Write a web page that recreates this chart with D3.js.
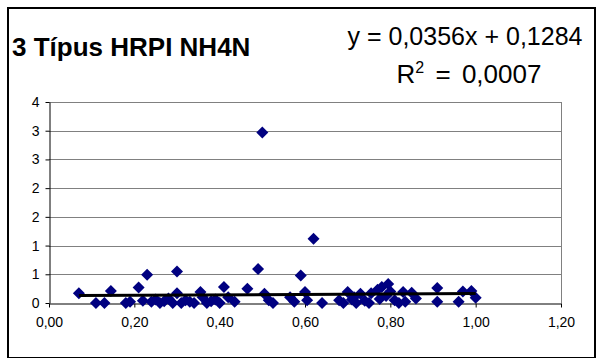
<!DOCTYPE html>
<html>
<head>
<meta charset="utf-8">
<script src="https://cdn.jsdelivr.net/npm/d3@7"></script>
<style>
  html, body { margin: 0; padding: 0; background: #fff; }
  svg { display: block; font-family: "Liberation Sans", Arial, sans-serif; }
</style>
</head>
<body>
<div id="chart"></div>
<script>
// Measured values (x, y)
const xValues = [0.07, 0.11, 0.13, 0.145, 0.18, 0.19, 0.21, 0.22, 0.23, 0.24, 0.25, 0.26, 0.27, 0.28, 0.29,
  0.30, 0.30, 0.31, 0.32, 0.33, 0.34, 0.355, 0.36, 0.37, 0.38, 0.39, 0.40, 0.41, 0.42, 0.435,
  0.465, 0.49, 0.50, 0.505, 0.515, 0.525, 0.565, 0.575, 0.59, 0.60, 0.605, 0.62, 0.64,
  0.68, 0.69, 0.70, 0.71, 0.715, 0.72, 0.73, 0.74, 0.75, 0.755, 0.77, 0.775, 0.78, 0.79, 0.795,
  0.80, 0.81, 0.82, 0.83, 0.835, 0.85, 0.86, 0.91, 0.91, 0.96, 0.97, 0.99, 1.00];
const yValues = [0.17, 0.00, 0.00, 0.21, 0.00, 0.02, 0.27, 0.04, 0.49, 0.02, 0.06, 0.00, 0.03, 0.08, 0.00,
  0.55, 0.17, 0.00, 0.05, 0.02, 0.00, 0.19, 0.10, 0.00, 0.03, 0.06, 0.00, 0.28, 0.10, 0.02,
  0.25, 0.59, 2.97, 0.16, 0.05, 0.00, 0.10, 0.02, 0.48, 0.19, 0.05, 1.12, 0.00,
  0.05, 0.00, 0.19, 0.06, 0.10, 0.00, 0.16, 0.04, 0.00, 0.17, 0.23, 0.07, 0.28, 0.12, 0.33,
  0.20, 0.05, 0.00, 0.19, 0.02, 0.18, 0.08, 0.26, 0.02, 0.02, 0.20, 0.21, 0.09];

// Linear trend as printed on the chart
const trendSlope = 0.0356;
const trendIntercept = 0.1284;

const xTicks = [0, 0.2, 0.4, 0.6, 0.8, 1.0, 1.2];
const yTicks = [0, 0.5, 1, 1.5, 2, 2.5, 3, 3.5];

const title = '3 Típus HRPI NH4N';

const width = 598, height = 358;
const plot = { left: 49, right: 561, top: 102, bottom: 303 };

const svg = d3.select('#chart').append('svg')
  .attr('width', width)
  .attr('height', height);

// Chart border
svg.append('rect')
  .attr('x', 8).attr('y', 8)
  .attr('width', 587).attr('height', 350)
  .attr('fill', '#fff')
  .attr('stroke', '#000')
  .attr('stroke-width', 2);

const xScale = d3.scaleLinear().domain([0, 1.2]).range([plot.left, plot.right]);
const yScale = d3.scaleLinear().domain([0, 3.5]).range([plot.bottom, plot.top]);

// Gridlines
svg.append('g').selectAll('line')
  .data(yTicks.filter(d => d > 0))
  .enter().append('line')
  .attr('x1', plot.left).attr('x2', plot.right)
  .attr('y1', d => Math.round(yScale(d)) + 0.5)
  .attr('y2', d => Math.round(yScale(d)) + 0.5)
  .attr('stroke', '#808080');

// Plot area right border
svg.append('line')
  .attr('x1', plot.right + 0.5).attr('x2', plot.right + 0.5)
  .attr('y1', plot.top).attr('y2', plot.bottom)
  .attr('stroke', '#808080');

// Axes
const fmtX = d => d3.format('.2f')(d).replace('.', ',');
const fmtY = d => String(Math.round(d + 1e-9));

svg.append('g')
  .attr('transform', `translate(0,${plot.bottom + 0.5})`)
  .call(d3.axisBottom(xScale).tickValues(xTicks).tickFormat(fmtX).tickSizeInner(4).tickSizeOuter(0).tickPadding(10))
  .call(g => g.select('.domain').attr('stroke', '#000'))
  .call(g => g.selectAll('line').attr('stroke', '#000'))
  .call(g => g.selectAll('text').attr('fill', '#000').style('font-size', '14px').style('font-family', '"Liberation Sans", Arial, sans-serif'));

svg.append('g')
  .attr('transform', `translate(${plot.left + 0.5},0)`)
  .call(d3.axisLeft(yScale).tickValues(yTicks).tickFormat(fmtY).tickSizeInner(4).tickSizeOuter(0).tickPadding(6))
  .call(g => g.select('.domain').attr('stroke', '#000'))
  .call(g => g.selectAll('line').attr('stroke', '#000'))
  .call(g => g.selectAll('text').attr('fill', '#000').style('font-size', '14px').style('font-family', '"Liberation Sans", Arial, sans-serif'));

// Points
const points = xValues.map((x, i) => ({ x, y: yValues[i] }));
const diamond = 'M0,-6L6,0L0,6L-6,0Z';

svg.append('g').selectAll('path')
  .data(points)
  .enter().append('path')
  .attr('d', diamond)
  .attr('transform', d => `translate(${xScale(d.x)},${yScale(d.y)})`)
  .attr('fill', '#000080');

// Trendline
const xMin = d3.min(xValues), xMax = d3.max(xValues);
svg.append('line')
  .attr('x1', xScale(xMin)).attr('x2', xScale(xMax))
  .attr('y1', yScale(trendSlope * xMin + trendIntercept))
  .attr('y2', yScale(trendSlope * xMax + trendIntercept))
  .attr('stroke', '#000')
  .attr('stroke-width', 3);

// Title
svg.append('text')
  .attr('x', 12).attr('y', 56)
  .style('font-size', '26px')
  .style('font-weight', 'bold')
  .text(title);

// Equation
svg.append('text')
  .attr('text-anchor', 'middle')
  .attr('x', 465).attr('y', 45)
  .style('font-size', '25px')
  .text(`y = ${String(trendSlope).replace('.', ',')}x + ${String(trendIntercept).replace('.', ',')}`);

const r2 = svg.append('text')
  .attr('text-anchor', 'middle')
  .attr('x', 469).attr('y', 83)
  .style('font-size', '26px')
  .style('word-spacing', '4px');
r2.append('tspan').text('R');
r2.append('tspan').attr('dy', -10).style('font-size', '16px').text('2');
r2.append('tspan').attr('dy', 10).text(' = 0,0007');
</script>
</body>
</html>
